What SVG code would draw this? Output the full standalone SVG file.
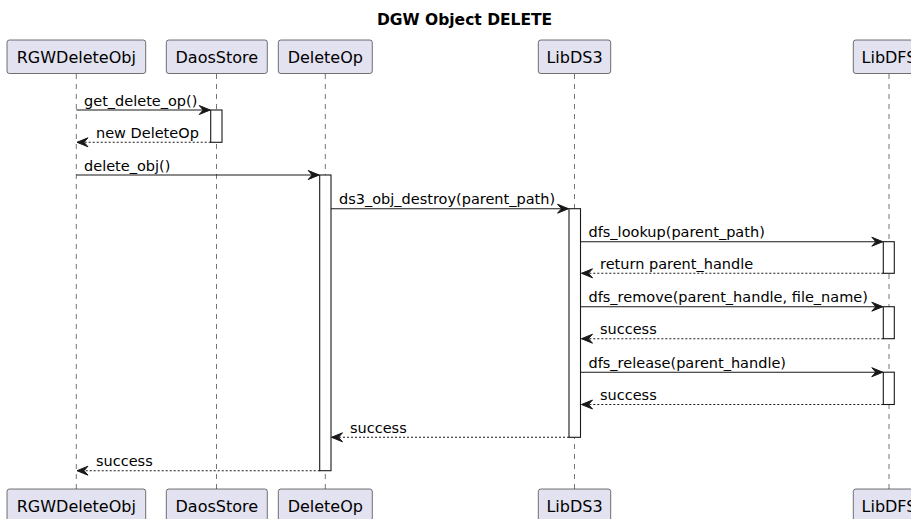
<svg xmlns="http://www.w3.org/2000/svg" width="911" height="519" viewBox="0 0 911 519">
  <style>
    .title { font-family: "DejaVu Sans", sans-serif; font-size: 15.5px; font-weight: bold; fill: #000; }
    .part rect { fill: #E2E2F0; stroke: #181818; stroke-width: 0.6; }
    .part text { font-family: "DejaVu Sans", sans-serif; font-size: 16px; fill: #000; text-anchor: middle; }
    .life { stroke: #181818; stroke-width: 0.6; stroke-dasharray: 5 5; fill: none; }
    .act { fill: #FFFFFF; stroke: #181818; stroke-width: 1.1; }
    .msg { stroke: #181818; stroke-width: 1.1; fill: none; marker-end: url(#head); }
    .ret { stroke: #181818; stroke-width: 1.1; fill: none; stroke-dasharray: 2 2; marker-end: url(#head); }
    .lbl { font-family: "DejaVu Sans", sans-serif; font-size: 14.5px; fill: #000; }
  </style>
  <defs>
    <marker id="head" markerUnits="userSpaceOnUse" viewBox="-12 -6 13 12" refX="0" refY="0" markerWidth="13" markerHeight="12" orient="auto">
      <path d="M-11,-4.5 L0,0 L-11,4.5 L-7,0 Z" fill="#181818" stroke="#181818" stroke-width="1"/>
    </marker>
  </defs>
  <rect width="911" height="519" fill="#FFFFFF"/>

  <text class="title" x="464.6" y="25" text-anchor="middle">DGW Object DELETE</text>

  <!-- lifelines -->
  <g id="lifelines">
    <line class="life" x1="76.3" y1="74" x2="76.3" y2="489"/>
    <line class="life" x1="216.5" y1="74" x2="216.5" y2="489"/>
    <line class="life" x1="325.3" y1="74" x2="325.3" y2="489"/>
    <line class="life" x1="574.5" y1="74" x2="574.5" y2="489"/>
    <line class="life" x1="889" y1="74" x2="889" y2="489"/>
  </g>

  <!-- participants (head and foot) -->
  <g id="RGWDeleteObj" class="part">
    <rect x="7" y="40" width="138.7" height="33.5" rx="2.5"/>
    <text x="76.3" y="62.5">RGWDeleteObj</text>
    <rect x="7" y="489" width="138.7" height="33.5" rx="2.5"/>
    <text x="76.3" y="511.5">RGWDeleteObj</text>
  </g>
  <g id="DaosStore" class="part">
    <rect x="166.3" y="40" width="101" height="33.5" rx="2.5"/>
    <text x="216.8" y="62.5">DaosStore</text>
    <rect x="166.3" y="489" width="101" height="33.5" rx="2.5"/>
    <text x="216.8" y="511.5">DaosStore</text>
  </g>
  <g id="DeleteOp" class="part">
    <rect x="278.3" y="40" width="94" height="33.5" rx="2.5"/>
    <text x="325.3" y="62.5">DeleteOp</text>
    <rect x="278.3" y="489" width="94" height="33.5" rx="2.5"/>
    <text x="325.3" y="511.5">DeleteOp</text>
  </g>
  <g id="LibDS3" class="part">
    <rect x="538.3" y="40" width="72.4" height="33.5" rx="2.5"/>
    <text x="574.5" y="62.5">LibDS3</text>
    <rect x="538.3" y="489" width="72.4" height="33.5" rx="2.5"/>
    <text x="574.5" y="511.5">LibDS3</text>
  </g>
  <g id="LibDFS" class="part">
    <rect x="853.3" y="40" width="71.4" height="33.5" rx="2.5"/>
    <text x="889" y="62.5">LibDFS</text>
    <rect x="853.3" y="489" width="71.4" height="33.5" rx="2.5"/>
    <text x="889" y="511.5">LibDFS</text>
  </g>

  <!-- activation bars -->
  <g id="activations">
    <rect class="act" x="210.7" y="110" width="11.3" height="32.3"/>
    <rect class="act" x="319.7" y="175" width="11.3" height="295.7"/>
    <rect class="act" x="569" y="208.7" width="11.5" height="228.6"/>
    <rect class="act" x="883.3" y="241.7" width="11" height="31.6"/>
    <rect class="act" x="883.3" y="306.7" width="11" height="32"/>
    <rect class="act" x="883.3" y="372.2" width="11" height="32.3"/>
  </g>

  <!-- messages -->
  <g id="connectors">
    <line class="msg" x1="76.3" y1="110" x2="210.2" y2="110"/>
    <line class="ret" x1="210.7" y1="142.3" x2="77" y2="142.3"/>
    <line class="msg" x1="76.3" y1="175" x2="319.2" y2="175"/>
    <line class="msg" x1="331" y1="208.7" x2="568.5" y2="208.7"/>
    <line class="msg" x1="580.5" y1="241.7" x2="882.8" y2="241.7"/>
    <line class="ret" x1="883.3" y1="273.3" x2="581.5" y2="273.3"/>
    <line class="msg" x1="580.5" y1="306.7" x2="882.8" y2="306.7"/>
    <line class="ret" x1="883.3" y1="338.7" x2="581.5" y2="338.7"/>
    <line class="msg" x1="580.5" y1="372.2" x2="882.8" y2="372.2"/>
    <line class="ret" x1="883.3" y1="404.5" x2="581.5" y2="404.5"/>
    <line class="ret" x1="569" y1="437.3" x2="331.5" y2="437.3"/>
    <line class="ret" x1="319.7" y1="470.7" x2="77" y2="470.7"/>
  </g>

  <!-- message labels -->
  <g id="labels">
    <text class="lbl" x="84" y="105.5">get_delete_op()</text>
    <text class="lbl" x="96" y="137.8">new DeleteOp</text>
    <text class="lbl" x="84" y="170.5">delete_obj()</text>
    <text class="lbl" x="339" y="204.2">ds3_obj_destroy(parent_path)</text>
    <text class="lbl" x="588.5" y="237.2">dfs_lookup(parent_path)</text>
    <text class="lbl" x="600" y="268.8">return parent_handle</text>
    <text class="lbl" x="588.5" y="302.2">dfs_remove(parent_handle, file_name)</text>
    <text class="lbl" x="600" y="334.2">success</text>
    <text class="lbl" x="588.5" y="367.7">dfs_release(parent_handle)</text>
    <text class="lbl" x="600" y="400">success</text>
    <text class="lbl" x="350" y="432.8">success</text>
    <text class="lbl" x="96" y="466.2">success</text>
  </g>
</svg>
